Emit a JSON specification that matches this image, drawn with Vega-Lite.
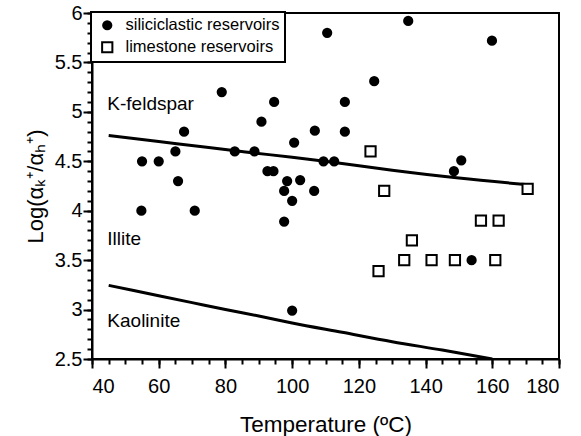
{
  "$schema": "https://vega.github.io/schema/vega-lite/v6.json",
  "width": 467,
  "height": 346,
  "autosize": "none",
  "padding": {"left": 92, "top": 13, "right": 22, "bottom": 77},
  "config": {
    "font": "Liberation Sans",
    "view": {"stroke": "black", "strokeWidth": 2},
    "axis": {"grid": false, "domainColor": "black", "domainWidth": 2, "tickColor": "black", "tickWidth": 2, "labelColor": "black", "titleColor": "black", "labelFont": "Liberation Sans", "titleFont": "Liberation Sans", "titleFontWeight": "normal"},
    "legend": {"strokeWidth": 2}
  },
  "datasets": {
    "pts": [
      {"T": 55, "logK": 4.5, "type": "siliciclastic reservoirs"},
      {"T": 60, "logK": 4.5, "type": "siliciclastic reservoirs"},
      {"T": 65, "logK": 4.6, "type": "siliciclastic reservoirs"},
      {"T": 67.6, "logK": 4.8, "type": "siliciclastic reservoirs"},
      {"T": 65.8, "logK": 4.3, "type": "siliciclastic reservoirs"},
      {"T": 54.8, "logK": 4.0, "type": "siliciclastic reservoirs"},
      {"T": 70.8, "logK": 4.0, "type": "siliciclastic reservoirs"},
      {"T": 78.9, "logK": 5.2, "type": "siliciclastic reservoirs"},
      {"T": 82.8, "logK": 4.6, "type": "siliciclastic reservoirs"},
      {"T": 88.7, "logK": 4.6, "type": "siliciclastic reservoirs"},
      {"T": 90.8, "logK": 4.9, "type": "siliciclastic reservoirs"},
      {"T": 94.6, "logK": 5.1, "type": "siliciclastic reservoirs"},
      {"T": 92.6, "logK": 4.4, "type": "siliciclastic reservoirs"},
      {"T": 94.4, "logK": 4.4, "type": "siliciclastic reservoirs"},
      {"T": 100.6, "logK": 4.69, "type": "siliciclastic reservoirs"},
      {"T": 98.5, "logK": 4.3, "type": "siliciclastic reservoirs"},
      {"T": 102.4, "logK": 4.31, "type": "siliciclastic reservoirs"},
      {"T": 97.6, "logK": 4.2, "type": "siliciclastic reservoirs"},
      {"T": 100, "logK": 4.1, "type": "siliciclastic reservoirs"},
      {"T": 97.6, "logK": 3.89, "type": "siliciclastic reservoirs"},
      {"T": 100, "logK": 2.99, "type": "siliciclastic reservoirs"},
      {"T": 106.8, "logK": 4.81, "type": "siliciclastic reservoirs"},
      {"T": 106.6, "logK": 4.2, "type": "siliciclastic reservoirs"},
      {"T": 109.4, "logK": 4.5, "type": "siliciclastic reservoirs"},
      {"T": 112.6, "logK": 4.5, "type": "siliciclastic reservoirs"},
      {"T": 110.5, "logK": 5.8, "type": "siliciclastic reservoirs"},
      {"T": 115.8, "logK": 5.1, "type": "siliciclastic reservoirs"},
      {"T": 115.8, "logK": 4.8, "type": "siliciclastic reservoirs"},
      {"T": 124.6, "logK": 5.31, "type": "siliciclastic reservoirs"},
      {"T": 134.8, "logK": 5.92, "type": "siliciclastic reservoirs"},
      {"T": 159.9, "logK": 5.72, "type": "siliciclastic reservoirs"},
      {"T": 148.5, "logK": 4.4, "type": "siliciclastic reservoirs"},
      {"T": 150.7, "logK": 4.51, "type": "siliciclastic reservoirs"},
      {"T": 153.8, "logK": 3.5, "type": "siliciclastic reservoirs"},
      {"T": 123.5, "logK": 4.6, "type": "limestone reservoirs"},
      {"T": 127.6, "logK": 4.2, "type": "limestone reservoirs"},
      {"T": 170.6, "logK": 4.22, "type": "limestone reservoirs"},
      {"T": 156.6, "logK": 3.9, "type": "limestone reservoirs"},
      {"T": 161.9, "logK": 3.9, "type": "limestone reservoirs"},
      {"T": 135.9, "logK": 3.7, "type": "limestone reservoirs"},
      {"T": 133.6, "logK": 3.5, "type": "limestone reservoirs"},
      {"T": 141.8, "logK": 3.5, "type": "limestone reservoirs"},
      {"T": 148.8, "logK": 3.5, "type": "limestone reservoirs"},
      {"T": 160.9, "logK": 3.5, "type": "limestone reservoirs"},
      {"T": 125.9, "logK": 3.39, "type": "limestone reservoirs"}
    ],
    "lines": [
      {"T": 45, "logK": 4.76, "boundary": "K-feldspar/Illite"},
      {"T": 60, "logK": 4.7, "boundary": "K-feldspar/Illite"},
      {"T": 75, "logK": 4.64, "boundary": "K-feldspar/Illite"},
      {"T": 86, "logK": 4.595, "boundary": "K-feldspar/Illite"},
      {"T": 100, "logK": 4.54, "boundary": "K-feldspar/Illite"},
      {"T": 111, "logK": 4.495, "boundary": "K-feldspar/Illite"},
      {"T": 130, "logK": 4.41, "boundary": "K-feldspar/Illite"},
      {"T": 150, "logK": 4.33, "boundary": "K-feldspar/Illite"},
      {"T": 170, "logK": 4.265, "boundary": "K-feldspar/Illite"},
      {"T": 45, "logK": 3.245, "boundary": "Illite/Kaolinite"},
      {"T": 60, "logK": 3.14, "boundary": "Illite/Kaolinite"},
      {"T": 70, "logK": 3.07, "boundary": "Illite/Kaolinite"},
      {"T": 80, "logK": 3.0, "boundary": "Illite/Kaolinite"},
      {"T": 90, "logK": 2.935, "boundary": "Illite/Kaolinite"},
      {"T": 100, "logK": 2.865, "boundary": "Illite/Kaolinite"},
      {"T": 115, "logK": 2.77, "boundary": "Illite/Kaolinite"},
      {"T": 130, "logK": 2.675, "boundary": "Illite/Kaolinite"},
      {"T": 145, "logK": 2.59, "boundary": "Illite/Kaolinite"},
      {"T": 160, "logK": 2.5, "boundary": "Illite/Kaolinite"}
    ],
    "labels": [
      {"T": 44.6, "logK": 5.08, "label": "K-feldspar"},
      {"T": 44.6, "logK": 3.71, "label": "Illite"},
      {"T": 44.6, "logK": 2.885, "label": "Kaolinite"}
    ]
  },
  "resolve": {"axis": {"x": "independent", "y": "independent"}},
  "layer": [
    {
      "data": {"name": "lines"},
      "mark": {"type": "line", "color": "black", "strokeWidth": 3, "interpolate": "monotone", "clip": true},
      "encoding": {
        "x": {"field": "T", "type": "quantitative", "scale": {"domain": [40, 180], "nice": false, "zero": false},
          "axis": {"orient": "bottom", "values": [40,45,50,55,60,65,70,75,80,85,90,95,100,105,110,115,120,125,130,135,140,145,150,155,160,165,170,175,180], "tickSize": 5, "labels": false, "domain": false, "title": null}},
        "y": {"field": "logK", "type": "quantitative", "scale": {"domain": [2.5, 6], "nice": false, "zero": false},
          "axis": {"orient": "left", "values": [2.5,2.6,2.7,2.8,2.9,3,3.1,3.2,3.3,3.4,3.5,3.6,3.7,3.8,3.9,4,4.1,4.2,4.3,4.4,4.5,4.6,4.7,4.8,4.9,5,5.1,5.2,5.3,5.4,5.5,5.6,5.7,5.8,5.9,6], "tickSize": 5, "labels": false, "domain": false, "title": null}},
        "detail": {"field": "boundary", "type": "nominal"}
      }
    },
    {
      "data": {"name": "pts"},
      "mark": {"type": "point", "stroke": "black", "strokeWidth": 2, "opacity": 1},
      "encoding": {
        "x": {"field": "T", "type": "quantitative",
          "axis": {"orient": "bottom", "values": [40,60,80,100,120,140,160,180], "tickSize": 9, "labelFontSize": 20, "labelPadding": 8, "title": "Temperature (ºC)", "titleFontSize": 22.5, "titlePadding": 17}},
        "y": {"field": "logK", "type": "quantitative",
          "axis": {"orient": "left", "values": [2.5,3,3.5,4,4.5,5,5.5,6], "format": "~g", "tickSize": 9, "labelFontSize": 20, "labelPadding": 1, "title": "Log(αₖ⁺/αₕ⁺)", "titleFontSize": 22, "titlePadding": 7}},
        "fill": {"field": "type", "type": "nominal", "scale": {"domain": ["siliciclastic reservoirs", "limestone reservoirs"], "range": ["black", "white"]},
          "legend": {"title": null, "orient": "none", "legendX": -1, "legendY": -1, "padding": 5, "symbolOffset": 3, "labelOffset": 10, "rowPadding": 4, "labelFontSize": 16.5, "labelColor": "black", "strokeColor": "black", "fillColor": "white", "symbolStrokeColor": "black", "symbolStrokeWidth": 2}},
        "shape": {"field": "type", "type": "nominal", "scale": {"domain": ["siliciclastic reservoirs", "limestone reservoirs"], "range": ["circle", "square"]}},
        "size": {"field": "type", "type": "nominal", "scale": {"domain": ["siliciclastic reservoirs", "limestone reservoirs"], "range": [68, 105]}}
      }
    },
    {
      "data": {"name": "labels"},
      "mark": {"type": "text", "align": "left", "baseline": "middle", "fontSize": 19, "color": "black", "font": "Liberation Sans"},
      "encoding": {
        "x": {"field": "T", "type": "quantitative", "axis": null},
        "y": {"field": "logK", "type": "quantitative", "axis": null},
        "text": {"field": "label"}
      }
    }
  ]
}
